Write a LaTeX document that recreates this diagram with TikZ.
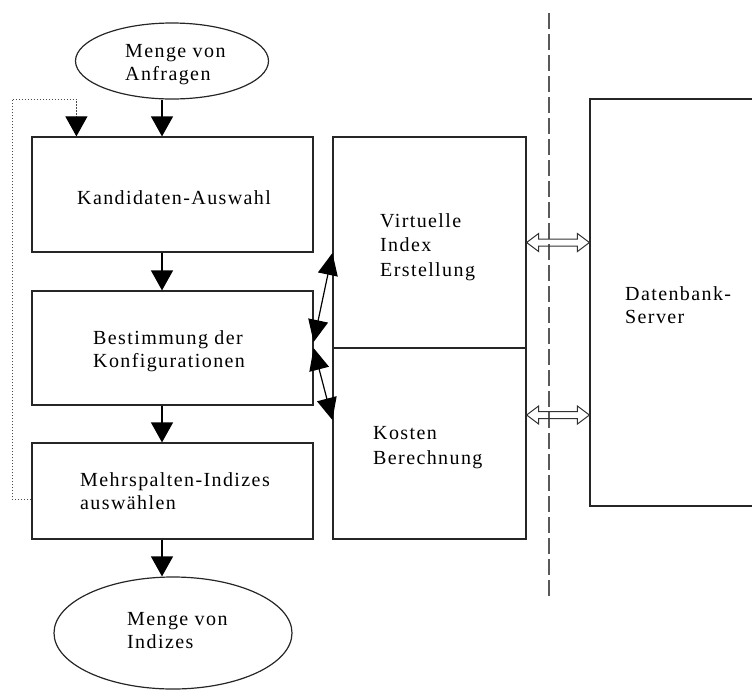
\documentclass[tikz,border=0pt]{standalone}
\usepackage{fontspec}
\setmainfont{Liberation Serif}[LetterSpace=7]
\usetikzlibrary{arrows.meta,shapes.geometric,calc}

% open double-headed arrow outline between two points on the same height
\newcommand\hollowlink[2]{%
  \draw[hollow] let \p1=(#1), \p2=(#2) in
    (\x1,\y1) -- (\x1+12pt,\y1+9pt) -- (\x1+12pt,\y1+3.5pt)
    -- (\x2-12pt,\y1+3.5pt) -- (\x2-12pt,\y1+9pt) -- (\x2,\y1)
    -- (\x2-12pt,\y1-9pt) -- (\x2-12pt,\y1-3.5pt)
    -- (\x1+12pt,\y1-3.5pt) -- (\x1+12pt,\y1-9pt) -- cycle;}

\begin{document}
\begin{tikzpicture}[x=1pt,y=-1pt,
  box/.style={draw=black!85, line width=1.2pt, rectangle, inner sep=0pt},
  oval/.style={draw=black!85, line width=1.2pt, ellipse, inner sep=0pt},
  lbl/.style={font=\fontsize{20}{22.5}\selectfont, align=left, inner sep=0pt, anchor=base west},
  flow/.style={line width=1.2pt, -{Triangle[width=22pt,length=20pt]}},
  bidir/.style={line width=1.2pt, {Triangle[width=20pt,length=22pt]}-{Triangle[width=20pt,length=22pt]}},
  feedback/.style={draw=black!70, line width=1pt, dash pattern=on 1.5pt off 1.5pt,
    -{Triangle[width=22pt,length=20pt,color=black,fill=black]}},
  hollow/.style={draw=black!80, line width=1pt},
  sep/.style={draw=black!65, line width=1.8pt, dash pattern=on 16pt off 5pt},
]
\useasboundingbox (0,0) rectangle (752,689);
\clip (0,0) rectangle (752,689);

% process chain
\node[oval, minimum width=193pt, minimum height=76pt] (qin) at (172,61) {};
\node[box, minimum width=281pt, minimum height=115pt] (cand) at (172.5,194.5) {};
\node[box, minimum width=281pt, minimum height=114pt] (conf) at (172.5,348) {};
\node[box, minimum width=281pt, minimum height=96pt] (multi) at (172.5,491) {};
\node[oval, minimum width=238pt, minimum height=112pt] (qout) at (173,633) {};

% what-if component and server
\node[box, minimum width=193pt, minimum height=211pt] (virt) at (429.5,242.5) {};
\node[box, minimum width=193pt, minimum height=191pt] (cost) at (429.5,443.5) {};
\node[box, minimum width=220pt, minimum height=407pt] (server) at (700,302.5) {};

% labels (anchored at the baseline of the last line)
\node[lbl] (tqin) at (125,80) {Menge von\\Anfragen};
\node[lbl] (tcand) at (77,204) {Kandidaten-Auswahl};
\node[lbl] (tconf) at (93,367) {Bestimmung der\\Konfigurationen};
\node[lbl] (tmulti) at (80,509) {Mehrspalten-Indizes\\ausw\"ahlen};
\node[lbl] (tqout) at (127,648) {Menge von\\Indizes};
\node[lbl, font=\fontsize{20}{24.5}\selectfont] (tvirt) at (380,276) {Virtuelle\\Index\\Erstellung};
\node[lbl, font=\fontsize{20}{25}\selectfont] (tcost) at (373,464) {Kosten\\Berechnung};
\node[lbl] (tserver) at (625,323) {Datenbank-\\Server};

% client / server boundary
\coordinate (sepTop) at (549,13);
\coordinate (sepBot) at (549,597);
\draw[sep] (sepTop) -- (sepBot);

% main flow
\draw[flow] ([xshift=-10pt]qin.south) -- ([xshift=-10.5pt]cand.north);
\draw[flow] ([xshift=-10.5pt]cand.south) -- ([xshift=-10.5pt]conf.north);
\draw[flow] ([xshift=-10.5pt]conf.south) -- ([xshift=-10.5pt]multi.north);
\draw[flow] ([xshift=-10.5pt]multi.south) -- ([xshift=-11pt]qout.north);

% iteration loop
\coordinate (fbcorner) at (12,99);
\draw[feedback] ([yshift=-8pt]multi.west) -| (fbcorner) -| ([xshift=45pt]cand.north west);

% exchange with the what-if component
\draw[bidir] ([yshift=6pt]conf.east) -- ([yshift=-10.5pt]virt.west);
\draw[bidir] (conf.east) -- ([yshift=23.5pt]cost.west);

% exchange with the server
\coordinate (va) at (virt.east);
\coordinate (vb) at (server.west |- va);
\coordinate (ca) at ([yshift=28.5pt]cost.east);
\coordinate (cb) at (server.west |- ca);
\hollowlink{va}{vb}
\hollowlink{ca}{cb}
\end{tikzpicture}
\end{document}
